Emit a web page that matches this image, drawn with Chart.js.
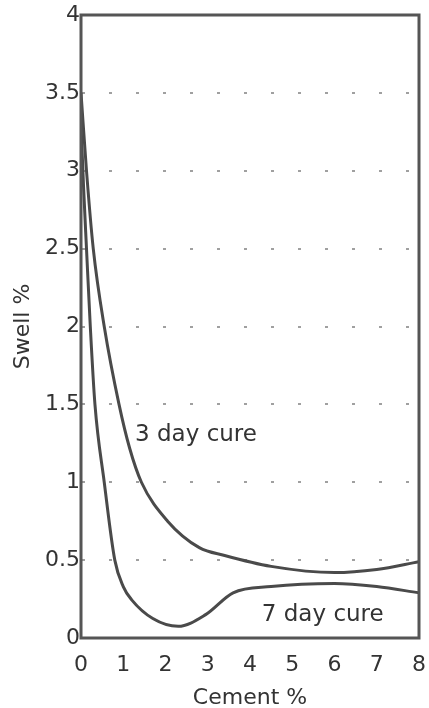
<!DOCTYPE html>
<html>
<head>
<meta charset="utf-8">
<script src="https://cdn.jsdelivr.net/npm/chart.js@4/dist/chart.umd.min.js"></script>
<style>
    html, body { margin: 0; padding: 0; background: #fff; }
    #wrap { width: 429px; height: 708px; }
</style>
</head>
<body>
<div id="wrap"><canvas id="swellChart" width="429" height="708"></canvas></div>
<script>
// Du lieu doc tu hinh: truc x = % xi mang, truc y = % truong no
const cement3 = [0, 0.13, 0.29, 0.55, 0.9, 1.15, 1.43, 2.05, 2.8, 3.4, 4.5, 6.0, 7.0, 8.0];
const swell3  = [3.5, 3.0, 2.5, 2.0, 1.5, 1.22, 1.0, 0.75, 0.58, 0.53, 0.46, 0.42, 0.44, 0.49];

const cement7 = [0, 0.06, 0.13, 0.22, 0.33, 0.55, 0.8, 1.0, 1.2, 1.7, 2.3, 2.95, 3.6, 4.5, 6.0, 7.0, 8.0];
const swell7  = [3.3, 2.9, 2.5, 2.0, 1.5, 1.0, 0.5, 0.33, 0.245, 0.125, 0.075, 0.15, 0.29, 0.33, 0.35, 0.33, 0.29];

const xTicks = [0, 1, 2, 3, 4, 5, 6, 7, 8];
const yTicks = [0, 0.5, 1, 1.5, 2, 2.5, 3, 3.5, 4];

// nhan tren duong cong: [text, x, y]
const curveLabels = [
    ['3 day cure', 1.28, 1.30],
    ['7 day cure', 4.28, 0.15]
];

function toPoints(xs, ys) {
    return xs.map(function (x, i) { return { x: x, y: ys[i] }; });
}

const inkColor = '#333';
const fontFamily = '"DejaVu Sans", "Liberation Sans", Arial, sans-serif';

// ve khung va nhan chu
const boxPlugin = {
    id: 'boxPlugin',
    afterDraw: function (chart) {
        const ctx = chart.ctx;
        const a = chart.chartArea;
        const xs = chart.scales.x;
        const ys = chart.scales.y;
        ctx.save();
        ctx.strokeStyle = '#555';
        ctx.lineWidth = 3;
        ctx.strokeRect(a.left, a.top, a.right - a.left, a.bottom - a.top);
        ctx.fillStyle = inkColor;
        ctx.font = '23px ' + fontFamily;
        ctx.textBaseline = 'middle';
        ctx.textAlign = 'left';
        curveLabels.forEach(function (l) {
            ctx.fillText(l[0], xs.getPixelForValue(l[1]), ys.getPixelForValue(l[2]));
        });
        ctx.restore();
    }
};

const ctx = document.getElementById('swellChart').getContext('2d');
new Chart(ctx, {
    type: 'scatter',
    data: {
        datasets: [{
            label: '3 day cure',
            data: toPoints(cement3, swell3),
            showLine: true,
            borderColor: '#4a4a4a',
            borderWidth: 3,
            pointRadius: 0,
            cubicInterpolationMode: 'monotone'
        }, {
            label: '7 day cure',
            data: toPoints(cement7, swell7),
            showLine: true,
            borderColor: '#4a4a4a',
            borderWidth: 3,
            pointRadius: 0,
            cubicInterpolationMode: 'monotone'
        }]
    },
    options: {
        responsive: false,
        animation: false,
        layout: { padding: { top: 15, right: 0, left: 0, bottom: 0 } },
        plugins: {
            legend: { display: false },
            tooltip: { enabled: false }
        },
        scales: {
            x: {
                type: 'linear',
                min: 0,
                max: 8,
                afterBuildTicks: function (axis) {
                    axis.ticks = xTicks.map(function (v) { return { value: v }; });
                },
                grid: { display: false, drawTicks: false },
                border: { display: false },
                ticks: {
                    color: inkColor,
                    font: { family: fontFamily, size: 22 },
                    padding: 14,
                    maxRotation: 0,
                    callback: function (v) { return String(v); }
                },
                title: {
                    display: true,
                    text: 'Cement %',
                    color: inkColor,
                    font: { family: fontFamily, size: 22, lineHeight: 0.9 },
                    padding: { top: 19, bottom: 0 }
                },
                afterFit: function (axis) {
                    axis.height = 70;
                    axis.paddingLeft = 0;
                    axis.paddingRight = 10;
                }
            },
            y: {
                type: 'linear',
                min: 0,
                max: 4,
                afterBuildTicks: function (axis) {
                    axis.ticks = yTicks.map(function (v) { return { value: v }; });
                },
                grid: {
                    drawTicks: false,
                    color: function (c) {
                        return (c.tick.value === 0 || c.tick.value === 4) ? 'rgba(0,0,0,0)' : '#a0a0a0';
                    },
                    lineWidth: 2
                },
                border: { display: false, dash: [3, 24], dashOffset: -28 },
                ticks: {
                    color: inkColor,
                    font: { family: fontFamily, size: 22 },
                    padding: 1,
                    callback: function (v) { return String(v); }
                },
                title: {
                    display: true,
                    text: 'Swell %',
                    color: inkColor,
                    font: { family: fontFamily, size: 22 },
                    padding: { top: 10, bottom: 0 }
                },
                afterFit: function (axis) { axis.width = 81; }
            }
        }
    },
    plugins: [boxPlugin]
});
</script>
</body>
</html>
